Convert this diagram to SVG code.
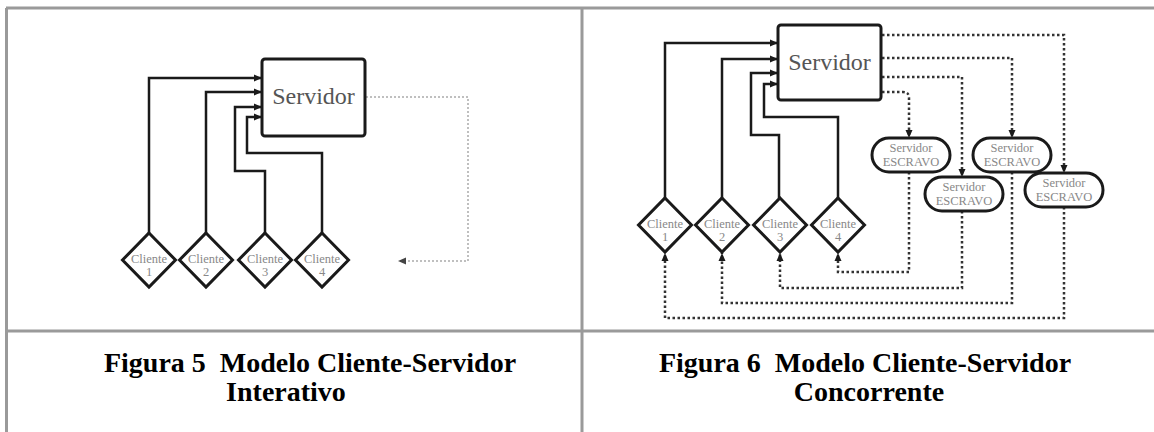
<svg xmlns="http://www.w3.org/2000/svg" width="1154" height="432" viewBox="0 0 1154 432">
<style>
.tbl{stroke:#9a9a9a;stroke-width:3;fill:none}
.srv{fill:#fff;stroke:#1a1a1a;stroke-width:3}
.srvt{font-family:"Liberation Serif",serif;font-size:24px;fill:#555;text-anchor:middle}
.cli{fill:#fff;stroke:#1a1a1a;stroke-width:3}
.clit{font-family:"Liberation Serif",serif;font-size:12.5px;fill:#888;text-anchor:middle}
.sol{fill:none;stroke:#1a1a1a;stroke-width:2.5}
.dotL{fill:none;stroke:#aaa;stroke-width:1.5;stroke-dasharray:2 2}
.dotR{fill:none;stroke:#333;stroke-width:2.5;stroke-dasharray:2.5 2.5}
.esc{fill:#fff;stroke:#1a1a1a;stroke-width:3}
.esct{font-family:"Liberation Serif",serif;font-size:12.5px;fill:#888;text-anchor:middle}
.cap{font-family:"Liberation Serif",serif;font-size:28px;font-weight:bold;fill:#000;text-anchor:middle}
</style>
<defs>
<marker id="ah" markerUnits="userSpaceOnUse" markerWidth="8" markerHeight="8" refX="8" refY="4" orient="auto">
<path d="M0,0.5 L8,4 L0,7.5 z" fill="#1a1a1a"/>
</marker>
<marker id="ahL" markerUnits="userSpaceOnUse" markerWidth="9" markerHeight="8" refX="8" refY="4" orient="auto">
<path d="M0,0.5 L8,4 L0,7.5 z" fill="#444"/>
</marker>
</defs>
<g id="table">
<line class="tbl" x1="6" y1="8" x2="1154" y2="8"/>
<line class="tbl" x1="6.5" y1="8" x2="6.5" y2="432"/>
<line class="tbl" x1="582" y1="8" x2="582" y2="432"/>
<line class="tbl" x1="6" y1="331" x2="1154" y2="331"/>
</g>
<g id="connectors">
<path class="sol" d="M149,233 V78 H262" marker-end="url(#ah)"/>
<path class="sol" d="M206,233 V92 H262" marker-end="url(#ah)"/>
<path class="sol" d="M265,233 V171 H235 V107 H262" marker-end="url(#ah)"/>
<path class="sol" d="M322,233 V153 H247 V117 H262" marker-end="url(#ah)"/>
<path class="dotL" d="M366,97 H468 V261 H398" marker-end="url(#ahL)"/>
<path class="sol" d="M665,198 V43 H778" marker-end="url(#ah)"/>
<path class="sol" d="M722,198 V59 H778" marker-end="url(#ah)"/>
<path class="sol" d="M779,198 V135 H751 V73 H778" marker-end="url(#ah)"/>
<path class="sol" d="M838,198 V117 H764 V84 H778" marker-end="url(#ah)"/>
<path class="dotR" d="M882,35 H1064 V173" marker-end="url(#ah)"/>
<path class="dotR" d="M882,58 H1012 V138" marker-end="url(#ah)"/>
<path class="dotR" d="M882,77 H962 V177" marker-end="url(#ah)"/>
<path class="dotR" d="M882,92 H903 Q909,92 909,98 V138" marker-end="url(#ah)"/>
<path class="dotR" d="M909,172 V272 H838 V253" marker-end="url(#ah)"/>
<path class="dotR" d="M962,211 V288 H780 V253" marker-end="url(#ah)"/>
<path class="dotR" d="M1012,172 V303 H722 V253" marker-end="url(#ah)"/>
<path class="dotR" d="M1064,207 V318 H665 V253" marker-end="url(#ah)"/>
</g>
<g id="servidor5">
<rect class="srv" x="262" y="59" width="103" height="77" rx="3"/>
<text class="srvt" x="313.5" y="104">Servidor</text>
</g>
<g id="cliente5-1">
<polygon class="cli" points="149,233 175.5,260 149,287 122.5,260"/>
<text class="clit" x="149" y="263">Cliente</text><text class="clit" x="149" y="276">1</text>
</g>
<g id="cliente5-2">
<polygon class="cli" points="206,233 232.5,260 206,287 179.5,260"/>
<text class="clit" x="206" y="263">Cliente</text><text class="clit" x="206" y="276">2</text>
</g>
<g id="cliente5-3">
<polygon class="cli" points="265,233 291.5,260 265,287 238.5,260"/>
<text class="clit" x="265" y="263">Cliente</text><text class="clit" x="265" y="276">3</text>
</g>
<g id="cliente5-4">
<polygon class="cli" points="322,233 348.5,260 322,287 295.5,260"/>
<text class="clit" x="322" y="263">Cliente</text><text class="clit" x="322" y="276">4</text>
</g>
<g id="servidor6">
<rect class="srv" x="778" y="25" width="103" height="75" rx="3"/>
<text class="srvt" x="829.5" y="70">Servidor</text>
</g>
<g id="cliente6-1">
<polygon class="cli" points="665,198 691.5,225 665,252 638.5,225"/>
<text class="clit" x="665" y="228">Cliente</text><text class="clit" x="665" y="241">1</text>
</g>
<g id="cliente6-2">
<polygon class="cli" points="722,198 748.5,225 722,252 695.5,225"/>
<text class="clit" x="722" y="228">Cliente</text><text class="clit" x="722" y="241">2</text>
</g>
<g id="cliente6-3">
<polygon class="cli" points="780,198 806.5,225 780,252 753.5,225"/>
<text class="clit" x="780" y="228">Cliente</text><text class="clit" x="780" y="241">3</text>
</g>
<g id="cliente6-4">
<polygon class="cli" points="838,198 864.5,225 838,252 811.5,225"/>
<text class="clit" x="838" y="228">Cliente</text><text class="clit" x="838" y="241">4</text>
</g>
<g id="escravo1">
<rect class="esc" x="872" y="138" width="78" height="34" rx="17"/>
<text class="esct" x="911" y="152">Servidor</text><text class="esct" x="911" y="166">ESCRAVO</text>
</g>
<g id="escravo2">
<rect class="esc" x="925" y="177" width="78" height="34" rx="17"/>
<text class="esct" x="964" y="191">Servidor</text><text class="esct" x="964" y="205">ESCRAVO</text>
</g>
<g id="escravo3">
<rect class="esc" x="973" y="138" width="78" height="34" rx="17"/>
<text class="esct" x="1012" y="152">Servidor</text><text class="esct" x="1012" y="166">ESCRAVO</text>
</g>
<g id="escravo4">
<rect class="esc" x="1025" y="173" width="78" height="34" rx="17"/>
<text class="esct" x="1064" y="187">Servidor</text><text class="esct" x="1064" y="201">ESCRAVO</text>
</g>
<g id="captions">
<text class="cap" x="310" y="372" xml:space="preserve">Figura 5  Modelo Cliente-Servidor</text>
<text class="cap" x="286" y="401">Interativo</text>
<text class="cap" x="865" y="372" xml:space="preserve">Figura 6  Modelo Cliente-Servidor</text>
<text class="cap" x="869" y="401">Concorrente</text>
</g>
</svg>
